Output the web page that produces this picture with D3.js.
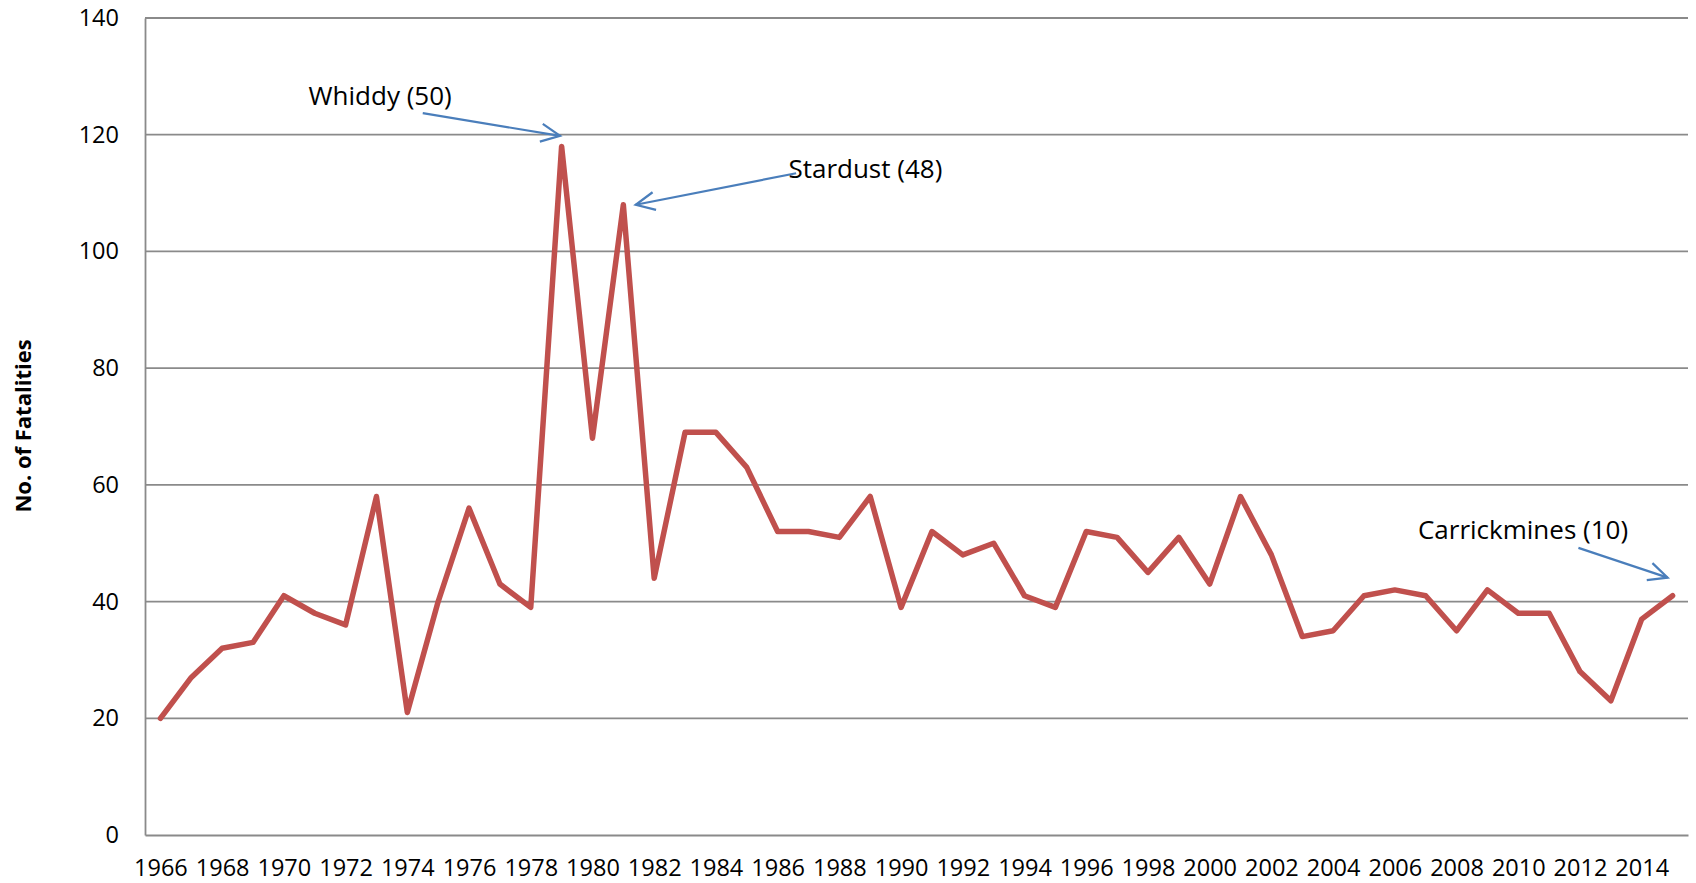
<!DOCTYPE html>
<html>
<head>
<meta charset="utf-8">
<script src="https://cdn.jsdelivr.net/npm/d3@7"></script>
<style>
  html, body { margin: 0; padding: 0; background: #ffffff; }
  svg { display: block; }
</style>
</head>
<body>
<svg id="chart" width="1696" height="883"></svg>
<script>
// ---- Data ----
const years = d3.range(1966, 2016);
const fatalities = [20, 27, 32, 33, 41, 38, 36, 58, 21, 40,
                    56, 43, 39, 118, 68, 108, 44, 69, 69, 63,
                    52, 52, 51, 58, 39, 52, 48, 50, 41, 39,
                    52, 51, 45, 51, 43, 58, 48, 34, 35, 41,
                    42, 41, 35, 42, 38, 38, 28, 23, 37, 41];
const yTicks = [0, 20, 40, 60, 80, 100, 120, 140];
const xTickYears = years.filter(y => (y - 1966) % 2 === 0);
const yAxisTitle = "No. of Fatalities";

// Annotations (anchored in data coordinates: year, value)
const annoLabels   = ["Whiddy (50)", "Stardust (48)", "Carrickmines (10)"];
const annoTextYear = [1970.8, 1986.35, 2006.75];
const annoTextVal  = [125.1, 112.6, 50.7];
const arrowFromYr  = [1974.5, 1986.6, 2011.95];
const arrowFromVal = [123.7, 113.4, 49.2];
const arrowToYr    = [1978.95, 1981.4, 2014.84];
const arrowToVal   = [119.8, 108.0, 44.1];

// ---- Layout ----
const plot = { left: 145, right: 1688, top: 18, bottom: 835 };
const font = "'Open Sans', sans-serif";
const svg = d3.select("#chart");

const x = d3.scalePoint().domain(years).range([plot.left, plot.right]).padding(0.5);
const xYear = d3.scaleLinear().domain([1966, 2015]).range([x(1966), x(2015)]);
const y = d3.scaleLinear().domain([0, 140]).range([plot.bottom, plot.top]);

// Gridlines
svg.append("g")
  .selectAll("line")
  .data(yTicks.filter(t => t !== 0))
  .join("line")
  .attr("x1", plot.left).attr("x2", plot.right)
  .attr("y1", d => y(d)).attr("y2", d => y(d))
  .attr("stroke", "#8a8a8a").attr("stroke-width", 1.8);

// Y axis
const yAxis = svg.append("g")
  .attr("transform", `translate(${plot.left},0)`)
  .call(d3.axisLeft(y).tickValues(yTicks).tickSize(0).tickPadding(26).tickFormat(d3.format("d")));
yAxis.select(".domain").attr("stroke", "#8a8a8a").attr("stroke-width", 1.8);
yAxis.selectAll("text").attr("font-family", font).attr("font-size", 23.5).attr("fill", "#000");

// X axis
const xAxis = svg.append("g")
  .attr("transform", `translate(0,${plot.bottom})`)
  .call(d3.axisBottom(x).tickValues(xTickYears).tickSize(0).tickPadding(24).tickSizeOuter(0));
xAxis.select(".domain").attr("stroke", "#8a8a8a").attr("stroke-width", 1.8);
xAxis.selectAll("text").attr("font-family", font).attr("font-size", 23.5).attr("fill", "#000");

// Y axis title
svg.append("text")
  .attr("transform", `translate(31,426) rotate(-90)`)
  .attr("text-anchor", "middle")
  .attr("font-family", font).attr("font-weight", "bold").attr("font-size", 22)
  .attr("fill", "#000")
  .text(yAxisTitle);

// Line
const line = d3.line().x((d, i) => x(years[i])).y(d => y(d));
svg.append("path")
  .datum(fatalities)
  .attr("d", line)
  .attr("fill", "none")
  .attr("stroke", "#c0504d")
  .attr("stroke-width", 5.5)
  .attr("stroke-linejoin", "round")
  .attr("stroke-linecap", "round");

// Arrow marker
svg.append("defs").append("marker")
  .attr("id", "arrowhead")
  .attr("markerUnits", "userSpaceOnUse")
  .attr("viewBox", "-22 -12 26 24")
  .attr("markerWidth", 26).attr("markerHeight", 24)
  .attr("refX", 0).attr("refY", 0)
  .attr("orient", "auto")
  .append("path")
  .attr("d", "M-19,-9 L0,0 L-19,9")
  .attr("fill", "none")
  .attr("stroke", "#4a7ebb")
  .attr("stroke-width", 2.2);

// Annotations
const annos = annoLabels.map((t, i) => ({
  t, tx: annoTextYear[i], tv: annoTextVal[i],
  fx: arrowFromYr[i], fv: arrowFromVal[i], ex: arrowToYr[i], ev: arrowToVal[i]
}));

svg.append("g").selectAll("line")
  .data(annos)
  .join("line")
  .attr("x1", d => xYear(d.fx)).attr("y1", d => y(d.fv))
  .attr("x2", d => xYear(d.ex)).attr("y2", d => y(d.ev))
  .attr("stroke", "#4a7ebb").attr("stroke-width", 2.2)
  .attr("marker-end", "url(#arrowhead)");

svg.append("g").selectAll("text")
  .data(annos)
  .join("text")
  .attr("x", d => xYear(d.tx)).attr("y", d => y(d.tv))
  .attr("font-family", font).attr("font-size", 26).attr("fill", "#000")
  .text(d => d.t);
</script>
</body>
</html>
